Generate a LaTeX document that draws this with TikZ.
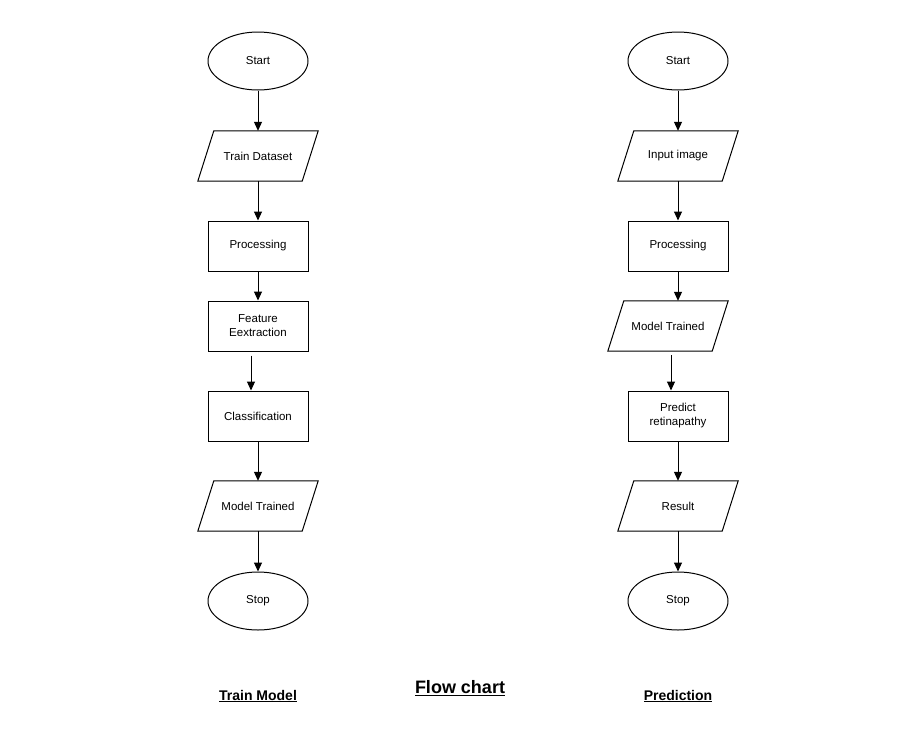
\documentclass[tikz,border=0pt]{standalone}
\usepackage{fontspec}
\setmainfont{Liberation Sans}
\usetikzlibrary{shapes.geometric,arrows.meta}

\tikzset{
  term/.style={draw, ellipse, line width=1pt, minimum width=100pt, minimum height=58pt, inner sep=0pt},
  proc/.style={draw, rectangle, line width=1pt, minimum width=100pt, minimum height=50pt, inner sep=0pt, align=center},
  io/.style={rectangle, minimum width=104pt, minimum height=50pt, inner sep=0pt},
  arr/.style={line width=1pt, -{Triangle[length=9pt,width=8pt]}},
}

\begin{document}
\begin{tikzpicture}[x=1pt,y=-1pt,font=\fontsize{11.5}{14}\selectfont]
  \useasboundingbox (0,0) rectangle (921,742);
  % train model column
  \node[term] (ls) at (258,61) {Start};
  \node[io] (ldata) at (258,156) {Train Dataset};
  \node[proc] (lproc) at (258,246) {Processing};
  \node[proc] (lfeat) at (258,326) {Feature\\Eextraction};
  \node[proc] (lcls) at (258,416) {Classification};
  \node[io] (lmodel) at (258,506) {Model Trained};
  \node[term] (lstop) at (258,601) {Stop};
  \draw[arr] (ls) -- (ldata);
  \draw[arr] (ldata) -- (lproc);
  \draw[arr] (lproc) -- (lfeat);
  \draw[arr] ([xshift=-7,yshift=-4]lfeat.south) -- ([xshift=-7]lcls.north);
  \draw[arr] (lcls) -- (lmodel);
  \draw[arr] (lmodel) -- (lstop);
  % prediction column
  \node[term] (rs) at (678,61) {Start};
  \node[io] (rimg) at (678,156) {Input image};
  \node[proc] (rproc) at (678,246) {Processing};
  \node[io] (rmodel) at (668,326) {Model Trained};
  \node[proc] (rpred) at (678,416) {Predict\\retinapathy};
  \node[io] (rres) at (678,506) {Result};
  \node[term] (rstop) at (678,601) {Stop};
  \draw[arr] (rs) -- (rimg);
  \draw[arr] (rimg) -- (rproc);
  \draw[arr] (rproc.south) -- (rproc.south |- rmodel.north);
  \draw[arr] ([xshift=3,yshift=-4]rmodel.south) -- ([xshift=-7]rpred.north);
  \draw[arr] (rpred) -- (rres);
  \draw[arr] (rres) -- (rstop);
  % parallelogram outlines
  \foreach \n in {ldata,lmodel,rimg,rmodel,rres}
    \draw[line width=1pt] ([xshift=8]\n.north west) -- ([xshift=8]\n.north east)
      -- ([xshift=-8]\n.south east) -- ([xshift=-8]\n.south west) -- cycle;
  % captions
  \node[font=\fontsize{14}{16}\selectfont\bfseries] (ltitle) at (258,696) {\underline{Train Model}};
  \node[font=\fontsize{18}{20}\selectfont\bfseries] (title) at (460,688) {\underline{Flow chart}};
  \node[font=\fontsize{14}{16}\selectfont\bfseries] (rtitle) at (678,696) {\underline{Prediction}};
\end{tikzpicture}
\end{document}
